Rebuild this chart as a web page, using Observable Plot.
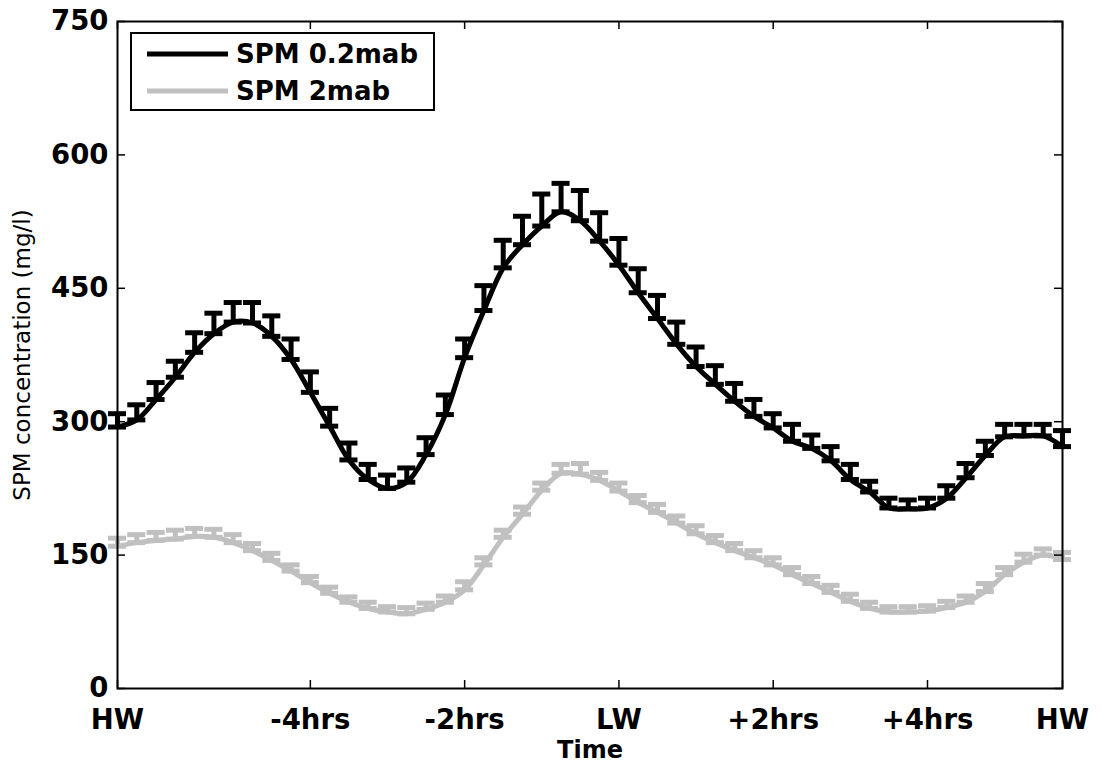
<!DOCTYPE html>
<html>
<head>
<meta charset="utf-8">
<script src="https://cdn.jsdelivr.net/npm/d3@7"></script>
<script src="https://cdn.jsdelivr.net/npm/@observablehq/plot@0.6"></script>
<style>
  body { margin: 0; background: #fff; }
  #wrap { position: relative; width: 1107px; height: 763px; overflow: hidden; }
  #legend { position: absolute; left: 0; top: 0; pointer-events: none; }
</style>
</head>
<body>
<div id="wrap"></div>
<script>
// Time (hours relative to low water), 15-minute steps from HW to HW
const hours = [-6.5, -6.25, -6, -5.75, -5.5, -5.25, -5, -4.75, -4.5, -4.25,
  -4, -3.75, -3.5, -3.25, -3, -2.75, -2.5, -2.25, -2, -1.75,
  -1.5, -1.25, -1, -0.75, -0.5, -0.25, 0, 0.25, 0.5, 0.75,
  1, 1.25, 1.5, 1.75, 2, 2.25, 2.5, 2.75, 3, 3.25,
  3.5, 3.75, 4, 4.25, 4.5, 4.75, 5, 5.25, 5.5, 5.75];

// SPM 0.2 mab: mean and upper error-bar end (mg/l)
const spm02Mean = [294, 302, 325, 350, 378, 399, 412, 411, 396, 370,
  333, 295, 257, 235, 225, 232, 263, 308, 372, 425,
  473, 499, 520, 536, 526, 503, 476, 445, 416, 387,
  362, 342, 323, 306, 293, 278, 270, 256, 235, 221,
  203, 202, 203, 214, 237, 262, 283, 284, 284, 272];
const spm02Upper = [309, 319, 344, 368, 400, 422, 434, 434, 419, 393,
  356, 315, 276, 252, 240, 248, 282, 330, 393, 453,
  504, 531, 556, 568, 560, 535, 506, 472, 442, 412,
  384, 363, 343, 325, 309, 297, 285, 272, 252, 233,
  214, 212, 214, 228, 253, 278, 297, 297, 297, 290];

// SPM 2 mab: mean and upper error-bar end (mg/l)
const spm2Mean = [160, 164, 166.5, 168, 171, 170, 164, 155, 144, 132,
  119, 107, 97, 90, 86, 84, 89, 97, 111, 139,
  170, 196, 223, 242, 241, 234, 222, 209, 198, 186,
  174, 164, 155, 147, 139, 128, 118, 108, 98, 90,
  86, 86, 87, 91, 97, 109, 128, 142, 150, 145];
const spm2Upper = [169, 173, 175.5, 178, 180, 179, 173, 163, 152, 139,
  126, 114, 103, 97, 92, 91, 96, 104, 120, 147,
  178, 204, 231, 252, 253, 243, 231, 217, 207, 194,
  183, 172, 163, 155, 147, 136, 126, 116, 106, 97,
  92, 92, 93, 98, 104, 118, 136, 151, 157, 153];

const xTickValues = [-6.5, -4, -2, 0, 2, 4, 5.75];
const xTickLabels = ["HW", "-4hrs", "-2hrs", "LW", "+2hrs", "+4hrs", "HW"];
const yTickValues = [0, 150, 300, 450, 600, 750];
const seriesNames = ["SPM 0.2mab", "SPM 2mab"];
const seriesColors = ["#000000", "#c0c0c0"];

const black = hours.map((t, i) => ({t, y: spm02Mean[i], top: spm02Upper[i]}));
const grey = hours.map((t, i) => ({t, y: spm2Mean[i], top: spm2Upper[i]}));

const W = 1107, H = 763;
const mL = 117, mR = 45, mT = 21, mB = 75;
const plotW = W - mL - mR, plotH = H - mT - mB;
const tickLen = 8;
const capHalf = 0.117;
const lw = 5;

function errorMarks(data, color) {
  return [
    Plot.ruleX(data, {x: "t", y1: "y", y2: "top", stroke: color, strokeWidth: lw}),
    Plot.ruleY(data, {y: "top", x1: d => d.t - capHalf, x2: d => d.t + capHalf, stroke: color, strokeWidth: lw}),
    Plot.ruleY(data, {y: "y", x1: d => d.t - capHalf, x2: d => d.t + capHalf, stroke: color, strokeWidth: lw}),
    Plot.line(data, {x: "t", y: "y", stroke: color, strokeWidth: lw, curve: "catmull-rom"})
  ];
}

const chart = Plot.plot({
  width: W,
  height: H,
  marginLeft: mL,
  marginRight: mR,
  marginTop: mT,
  marginBottom: mB,
  x: {domain: [-6.5, 5.75]},
  y: {domain: [0, 750]},
  style: {fontFamily: "DejaVu Sans", background: "white", color: "black", overflow: "visible"},
  marks: [
    ...errorMarks(black, seriesColors[0]),
    ...errorMarks(grey, seriesColors[1]),
    Plot.frame({stroke: "black", strokeWidth: 2}),
    Plot.tickY(yTickValues, {y: d => d, insetRight: plotW - tickLen, stroke: "black", strokeWidth: 1.5}),
    Plot.tickY(yTickValues, {y: d => d, insetLeft: plotW - tickLen, stroke: "black", strokeWidth: 1.5}),
    Plot.tickX(xTickValues, {x: d => d, insetTop: plotH - tickLen, stroke: "black", strokeWidth: 1.5}),
    Plot.tickX(xTickValues, {x: d => d, insetBottom: plotH - tickLen, stroke: "black", strokeWidth: 1.5}),
    Plot.axisY({ticks: yTickValues, tickSize: 0, tickPadding: 9, fontSize: 27.5, fontWeight: "bold", label: null}),
    Plot.axisX({ticks: xTickValues, tickSize: 0, tickPadding: 20.5, fontSize: 27.5, fontWeight: "bold", label: null,
      tickFormat: d => xTickLabels[xTickValues.indexOf(d)]}),
    Plot.text(["Time"], {frameAnchor: "bottom", dy: 61.5, text: d => d, fontSize: 24, fontWeight: "bold",
      lineAnchor: "middle", textAnchor: "middle"}),
    Plot.text(["SPM concentration (mg/l)"], {frameAnchor: "left", dx: -95, rotate: -90, text: d => d,
      fontSize: 23, lineAnchor: "middle", textAnchor: "middle"})
  ]
});

const wrap = document.getElementById("wrap");
wrap.appendChild(chart);

// Legend box inside the axes (top-left)
const leg = d3.select(wrap).append("svg")
  .attr("id", "legend").attr("width", W).attr("height", H);
leg.append("rect").attr("x", 131).attr("y", 33).attr("width", 303).attr("height", 77)
  .attr("fill", "white").attr("stroke", "black").attr("stroke-width", 2);
seriesNames.forEach((name, i) => {
  const yy = 54 + i * 37;
  leg.append("line").attr("x1", 147).attr("x2", 228).attr("y1", yy).attr("y2", yy)
    .attr("stroke", seriesColors[i]).attr("stroke-width", lw);
  leg.append("text").attr("x", 236).attr("y", yy + 9)
    .attr("font-family", "DejaVu Sans").attr("font-weight", "bold").attr("font-size", 26)
    .attr("fill", "black").text(name);
});
</script>
</body>
</html>
